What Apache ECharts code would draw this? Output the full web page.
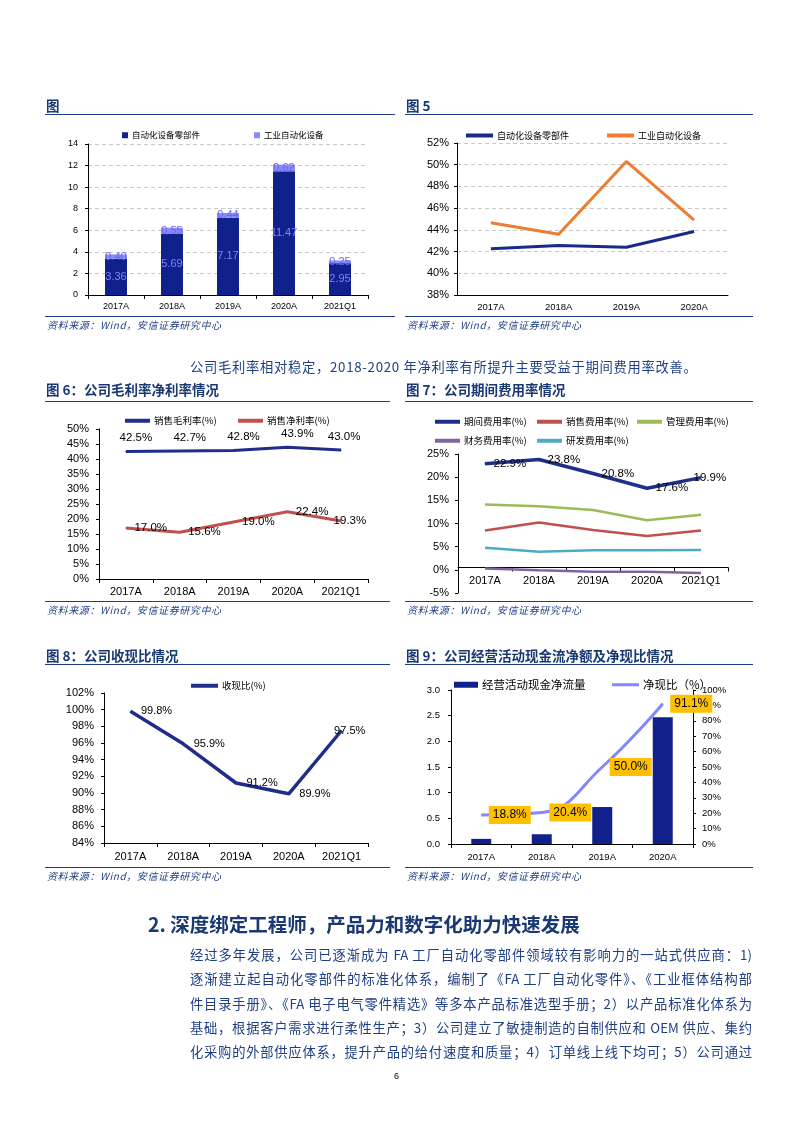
<!DOCTYPE html>
<html><head><meta charset="utf-8">
<script src="https://cdn.jsdelivr.net/npm/echarts@6/dist/echarts.min.js"></script>
<style>
body{margin:0;background:#fff;}
#page{position:relative;width:793px;height:1122px;overflow:hidden;background:#fff;font-family:"Noto Sans CJK SC","Liberation Sans",sans-serif;}
.c{position:absolute;left:0;top:0;width:793px;height:1122px;}
.t{position:absolute;white-space:nowrap;}
.title{font-size:13.5px;font-weight:bold;color:#1a3872;line-height:16px;}
.hr{position:absolute;height:0;border-top:1.5px solid #1f3f85;}
.src{font-size:10px;font-style:italic;color:#1f3f85;line-height:12px;letter-spacing:0.6px;}
.body{font-size:13.3px;color:#1f3f85;line-height:18px;width:562px;text-align:justify;text-align-last:justify;}
.head{font-size:19.5px;font-weight:bold;color:#1a3872;line-height:24px;}
</style></head>
<body><div id="page">
<div id="c1" class="c"></div><div id="c2" class="c"></div><div id="c3" class="c"></div>
<div id="c4" class="c"></div><div id="c5" class="c"></div><div id="c6" class="c"></div>

<div class="t title" style="left:46px;top:97px;">图</div>
<div class="hr" style="left:45px;top:114px;width:350px;"></div>
<div class="hr" style="left:45px;top:316px;width:350px;"></div>
<div class="t src" style="left:47px;top:319px;">资料来源：Wind，安信证券研究中心</div>

<div class="t title" style="left:406px;top:97px;">图 5</div>
<div class="hr" style="left:405px;top:114px;width:348px;"></div>
<div class="hr" style="left:405px;top:316px;width:348px;"></div>
<div class="t src" style="left:407px;top:319px;">资料来源：Wind，安信证券研究中心</div>

<div class="t body" style="left:190px;top:358px;width:auto;text-align-last:auto;letter-spacing:0.7px;">公司毛利率相对稳定，2018-2020 年净利率有所提升主要受益于期间费用率改善。</div>

<div class="t title" style="left:46px;top:381px;">图 6：公司毛利率净利率情况</div>
<div class="hr" style="left:45px;top:401px;width:345px;"></div>
<div class="hr" style="left:45px;top:601px;width:345px;"></div>
<div class="t src" style="left:47px;top:604px;">资料来源：Wind，安信证券研究中心</div>

<div class="t title" style="left:406px;top:381px;">图 7：公司期间费用率情况</div>
<div class="hr" style="left:405px;top:401px;width:348px;"></div>
<div class="hr" style="left:405px;top:601px;width:348px;"></div>
<div class="t src" style="left:407px;top:604px;">资料来源：Wind，安信证券研究中心</div>

<div class="t title" style="left:46px;top:647px;">图 8：公司收现比情况</div>
<div class="hr" style="left:45px;top:664px;width:345px;"></div>
<div class="hr" style="left:45px;top:867px;width:345px;"></div>
<div class="t src" style="left:47px;top:870px;">资料来源：Wind，安信证券研究中心</div>

<div class="t title" style="left:406px;top:647px;">图 9：公司经营活动现金流净额及净现比情况</div>
<div class="hr" style="left:405px;top:664px;width:348px;"></div>
<div class="hr" style="left:405px;top:867px;width:348px;"></div>
<div class="t src" style="left:407px;top:870px;">资料来源：Wind，安信证券研究中心</div>

<div class="t head" style="left:148px;top:912px;">2. 深度绑定工程师，产品力和数字化助力快速发展</div>
<div class="t body" style="left:190px;top:946px;">经过多年发展，公司已逐渐成为 FA 工厂自动化零部件领域较有影响力的一站式供应商：1)</div>
<div class="t body" style="left:190px;top:970px;">逐渐建立起自动化零部件的标准化体系，编制了《FA 工厂自动化零件》、《工业框体结构部</div>
<div class="t body" style="left:190px;top:995px;">件目录手册》、《FA 电子电气零件精选》等多本产品标准选型手册；2）以产品标准化体系为</div>
<div class="t body" style="left:190px;top:1019px;">基础，根据客户需求进行柔性生产；3）公司建立了敏捷制造的自制供应和 OEM 供应、集约</div>
<div class="t body" style="left:190px;top:1043px;">化采购的外部供应体系，提升产品的给付速度和质量；4）订单线上线下均可；5）公司通过</div>
<div class="t" style="left:394px;top:1071px;font-size:9px;font-family:'Liberation Sans';color:#000;">6</div>
</div>
<script>
// ---------- data ----------
const cat5 = ['2017A','2018A','2019A','2020A','2021Q1'];
const cat4 = ['2017A','2018A','2019A','2020A'];
// 图4: 收入构成 (亿元)
const partsRev = [3.36, 5.69, 7.17, 11.47, 2.95];
const equipRev = [0.40, 0.55, 0.44, 0.62, 0.25];
// 图5: 毛利率 (%)
const partsGM = [42.25, 42.55, 42.4, 43.85];
const equipGM = [44.65, 43.6, 50.3, 44.9];
// 图6
const grossMargin = [42.5, 42.7, 42.8, 43.9, 43.0];
const netMargin = [17.0, 15.6, 19.0, 22.4, 19.3];
// 图7
const periodExp = [22.9, 23.8, 20.8, 17.6, 19.9];
const sellExp = [8.5, 10.2, 8.6, 7.3, 8.5];
const mgmtExp = [14.1, 13.7, 12.9, 10.7, 11.9];
const finExp = [0.3, -0.1, -0.4, -0.4, -0.7];
const rdExp = [4.75, 3.9, 4.2, 4.2, 4.3];
// 图8
const cashRatio = [99.8, 95.9, 91.2, 89.9, 97.5];
// 图9
const opCash = [0.10, 0.19, 0.72, 2.47];
const netCashRatio = [18.8, 20.4, 50.0, 91.1];

// ---------- styles ----------
const LAT = 'Liberation Sans';
const CJK = 'Noto Sans CJK SC';
const NAVY = '#10218b';
const axLine = {show:true, lineStyle:{color:'#000', width:1}};
function leg(name, left, top, w, h, fs){
  return {data:[name], left:left, top:top, itemWidth:w, itemHeight:h, icon:'rect', itemGap:0,
    selectedMode:false, textStyle:{fontSize:fs, fontFamily:CJK, color:'#000', padding:[0,0,0,-1]}};
}
function xCat(data, fs, margin){
  return {type:'category', data:data, axisLine:axLine,
    axisTick:{show:true, length:4, lineStyle:{color:'#000'}},
    axisLabel:{fontSize:fs, fontFamily:LAT, color:'#000', margin:margin, interval:0}};
}
function yVal(min, max, itv, fs, margin, fmt, split){
  return {type:'value', min:min, max:max, interval:itv, axisLine:axLine,
    axisTick:{show:true, length:3, lineStyle:{color:'#000'}},
    splitLine: split ? {show:true, lineStyle:{type:[4,3], color:'#c8c8c8'}} : {show:false},
    axisLabel:{fontSize:fs, fontFamily:LAT, color:'#000', margin:margin, formatter:fmt}};
}
// label nudges per point (style only)
function withOffsets(values, offsets){
  return values.map((v,i) => offsets && offsets[i] ? {value:v, label:{offset:offsets[i]}} : v);
}
function ln(name, data, color, width, label, offsets){
  const s = {name:name, type:'line', data:withOffsets(data, offsets), symbol:'none', lineStyle:{color:color, width:width}, itemStyle:{color:color}};
  if (label) { s.symbol = 'circle'; s.symbolSize = 1; s.showSymbol = true; s.label = label; }
  return s;
}
function mk(id, opt){
  opt.animation = false;
  const ch = echarts.init(document.getElementById(id), null, {renderer:'canvas'});
  ch.setOption(opt);
}
const pct = p => (typeof p.value === 'number' ? p.value : p.data.value).toFixed(1) + '%';
const lblR = {show:true, position:'right', distance:8, color:'#000', fontSize:11, fontFamily:LAT, formatter:pct};

// 图4
mk('c1', {
  legend:[leg('自动化设备零部件',117,126,6,6,8.5), leg('工业自动化设备',249,126,6,6,8.5)],
  grid:{left:88, top:144, width:280, height:151, outerBoundsMode:'none'},
  xAxis:xCat(cat5, 9, 7),
  yAxis:yVal(0,14,2,9,10,'{value}',true),
  series:[
    {name:'自动化设备零部件', type:'bar', stack:'s', data:partsRev, barWidth:22,
      itemStyle:{color:NAVY},
      label:{show:true, position:'inside', color:'#8080ff', fontSize:11, fontFamily:LAT, formatter:p=>p.value.toFixed(2)}},
    {name:'工业自动化设备', type:'bar', stack:'s', data:equipRev, barWidth:22,
      itemStyle:{color:'#8a8aff'},
      label:{show:true, position:'inside', color:'#6a6ae6', fontSize:11, fontFamily:LAT, formatter:p=>p.value.toFixed(2)}}
  ]
});

// 图5
mk('c2', {
  legend:[leg('自动化设备零部件',461,126,27,4,9), leg('工业自动化设备',602,126,27,4,9)],
  grid:{left:457, top:143, width:271, height:152, outerBoundsMode:'none'},
  xAxis:Object.assign(xCat(cat4, 9.5, 7), {axisTick:{show:false}}),
  yAxis:yVal(38,52,2,11,8,'{value}%',true),
  series:[
    ln('自动化设备零部件', partsGM, '#1a2a8c', 3),
    ln('工业自动化设备', equipGM, '#ed7d31', 3)
  ]
});

// 图6
mk('c3', {
  legend:[leg('销售毛利率(%)',120,411,25,4,9.5), leg('销售净利率(%)',233,411,25,4,9.5)],
  grid:{left:99, top:429, width:269, height:150, outerBoundsMode:'none'},
  xAxis:xCat(cat5, 11, 7),
  yAxis:yVal(0,50,5,11,10,'{value}%',false),
  series:[
    ln('销售毛利率(%)', grossMargin, '#1f2e8a', 3, Object.assign({}, lblR, {position:'top', distance:7, fontSize:11.5}),
       [[10,0],[10,0],[10,0],[10,0],[3,0]]),
    ln('销售净利率(%)', netMargin, '#c0504d', 3, Object.assign({}, lblR, {fontSize:11.5}),
       [null,null,null,null,[-16,0]])
  ]
});

// 图7
mk('c4', {
  legend:[leg('期间费用率(%)',430,412,25,4,9.5), leg('销售费用率(%)',532,412,25,4,9.5), leg('管理费用率(%)',632,412,25,4,9.5),
          leg('财务费用率(%)',430,431,25,4,9.5), leg('研发费用率(%)',532,431,25,4,9.5)],
  grid:{left:458, top:454, width:270, height:139, outerBoundsMode:'none'},
  xAxis:Object.assign(xCat(cat5, 11, 8), {offset:-25.5, axisLine:{show:true, onZero:false, lineStyle:{color:'#000', width:1}}}),
  yAxis:yVal(-5,25,5,11,9,'{value}%',false),
  series:[
    ln('销售费用率(%)', sellExp, '#c0504d', 2.5),
    ln('管理费用率(%)', mgmtExp, '#9bbb59', 2.5),
    ln('财务费用率(%)', finExp, '#8064a2', 2.5),
    ln('研发费用率(%)', rdExp, '#4bacc6', 2.5),
    ln('期间费用率(%)', periodExp, '#1f2e8a', 3.5, Object.assign({}, lblR, {fontSize:11.5}),
       [null,null,null,null,[-16,0]])
  ]
});

// 图8
mk('c5', {
  legend:[leg('收现比(%)',186,676,27,4,9.5)],
  grid:{left:104, top:693, width:264, height:150, outerBoundsMode:'none'},
  xAxis:xCat(cat5, 11, 8),
  yAxis:yVal(84,102,2,11,10,'{value}%',false),
  series:[
    ln('收现比(%)', cashRatio, '#1f2e8a', 3.5, Object.assign({}, lblR, {distance:10, fontSize:11}),
       [null,null,null,null,[-18,0]])
  ]
});

// 图9
mk('c6', {
  legend:[leg('经营活动现金净流量',449,674,24,6,11.5), leg('净现比（%）',607,674,27,3,11.5)],
  grid:{left:451, top:690, width:242, height:154, outerBoundsMode:'none'},
  xAxis:xCat(cat4, 9.5, 8),
  yAxis:[
    yVal(0,3,0.5,9.5,11,v=>v.toFixed(1),false),
    Object.assign(yVal(0,100,10,9.5,9,'{value}%',false), {position:'right'})
  ],
  series:[
    {name:'经营活动现金净流量', type:'bar', data:opCash, barWidth:20, itemStyle:{color:NAVY}},
    Object.assign(ln('净现比（%）', netCashRatio, '#8585ff', 3,
      {show:true, position:'right', distance:7, color:'#000', fontSize:12, fontFamily:LAT,
        backgroundColor:'#ffc000', padding:[3,4,3,4], formatter:pct}), {yAxisIndex:1, smooth:0.45, z:5})
  ]
});
</script>
</body></html>
